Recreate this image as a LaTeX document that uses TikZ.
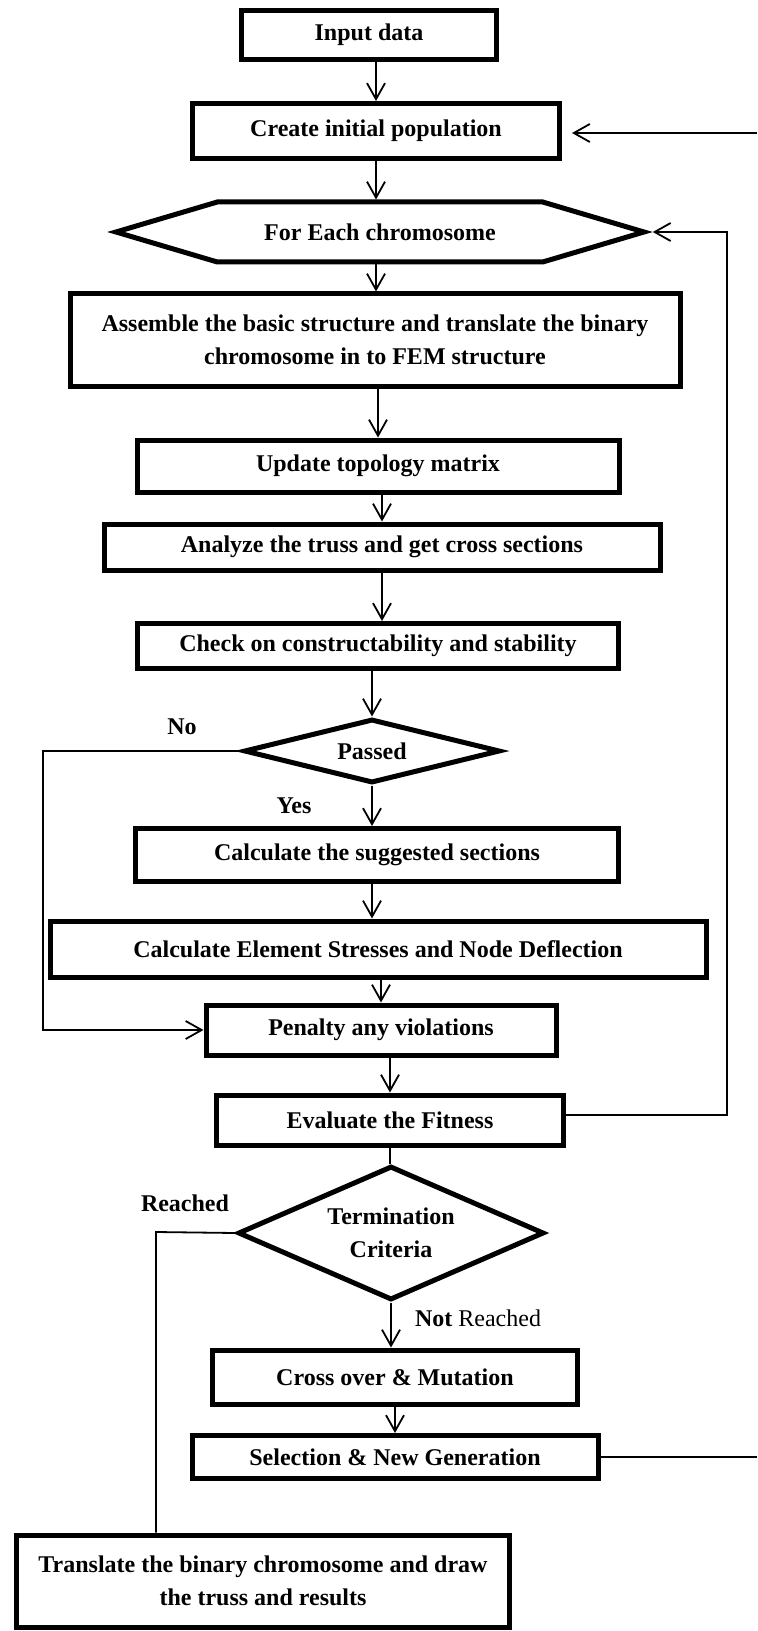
\documentclass[tikz,border=0pt]{standalone}
\usepackage{fontspec}
\setmainfont{Liberation Serif}
\usetikzlibrary{positioning,shapes.geometric,shapes.symbols,arrows.meta}

\begin{document}
\begin{tikzpicture}[x=0.5pt, y=-0.5pt,
    box/.style={draw, rectangle, line width=2.5pt, inner sep=0pt, align=center,
        font=\bfseries\fontsize{12}{16.5}\selectfont},
    hexbox/.style={draw, signal, signal to=east and west, signal pointer angle=33,
        line width=2.5pt, inner sep=0pt, font=\bfseries\fontsize{12}{16.5}\selectfont},
    decision/.style={draw, diamond, line width=2.5pt, inner sep=0pt, align=center,
        font=\bfseries\fontsize{12}{16.5}\selectfont},
    arr/.style={line width=0.9pt, -{Straight Barb[length=8pt, width=9pt, line width=0.9pt]}},
    plain/.style={line width=0.9pt},
    lbl/.style={font=\bfseries\fontsize{12}{14}\selectfont}]
    \useasboundingbox (0,0) rectangle (757,1631);

    % Nodes
    \node (input) [box, minimum width=127.5pt, minimum height=24.5pt] at (369,35) {Input data};
    \node (create) [box, minimum width=183.5pt, minimum height=27.5pt] at (376,131) {Create initial population};
    \node (hex) [hexbox, minimum width=264pt, minimum height=30pt] at (380,232) {For Each chromosome};
    \node (assemble) [box, minimum width=305pt, minimum height=46pt] at (375,340)
        {Assemble the basic structure and translate the binary\\chromosome in to FEM structure};
    \node (update) [box, minimum width=241pt, minimum height=26pt] at (378,466) {Update topology matrix};
    \node (analyze) [box, minimum width=278pt, minimum height=23pt] at (382,547) {Analyze the truss and get cross sections};
    \node (check) [box, minimum width=240.5pt, minimum height=22.5pt] at (378,646) {Check on constructability and stability};
    \node (passed) [decision, shape aspect=3.8, minimum width=128pt, minimum height=32pt] at (372,751) {Passed};
    \node (suggested) [box, minimum width=241.5pt, minimum height=26.5pt] at (377,855) {Calculate the suggested sections};
    \node (element) [box, minimum width=328pt, minimum height=28pt] at (378,949) {Calculate Element Stresses and Node Deflection};
    \node (penalty) [box, minimum width=175pt, minimum height=25pt] at (381,1030) {Penalty any violations};
    \node (evaluate) [box, minimum width=173.5pt, minimum height=25pt] at (390,1120) {Evaluate the Fitness};
    \node (termination) [decision, shape aspect=2.3, minimum width=153pt, minimum height=67pt] at (391,1233) {Termination\\Criteria};
    \node (cross) [box, minimum width=182.5pt, minimum height=27pt] at (395,1377) {Cross over \& Mutation};
    \node (selection) [box, minimum width=203pt, minimum height=21.5pt] at (395,1457) {Selection \& New Generation};
    \node (translate) [box, minimum width=246.5pt, minimum height=46pt] at (263,1581)
        {Translate the binary chromosome and draw\\the truss and results};

    % Labels
    \node (no) [lbl] at (182,727) {No};
    \node (yes) [lbl] at (294,806) {Yes};
    \node (reached) [lbl] at (185,1203) {Reached};
    \node (notreached) [lbl, anchor=west] at (408,1318) {Not \mdseries Reached};

    % Turning points
    \coordinate (noturn) at (43,751);
    \coordinate (loopright) at (727,1115);
    \coordinate (reachturn) at (156,1232);
    \coordinate (createin) at (757,133);
    \coordinate (selout) at (757,1457);

    % Main flow
    \draw [arr] (input.south -| create.north) -- (create.north);
    \draw [arr] (create.south) -- (create.south |- hex.north);
    \draw [arr] (hex.south -| create.south) -- (create.south |- assemble.north);
    \draw [arr] (assemble.south -| update.north) -- (update.north);
    \draw [arr] (update.south -| analyze.north) -- (analyze.north);
    \draw [arr] (analyze.south) -- (analyze.south |- check.north);
    \draw [arr] (check.south -| passed.north) -- (passed.north);
    \draw [arr] (passed.south) -- (passed.south |- suggested.north);
    \draw [arr] (suggested.south -| passed.south) -- (passed.south |- element.north);
    \draw [arr] (element.south -| penalty.north) -- (penalty.north);
    \draw [arr] (penalty.south -| evaluate.north) -- (evaluate.north);
    \draw [plain] (evaluate.south) -- (evaluate.south |- termination.north);
    \draw [arr] (termination.south) -- (termination.south |- cross.north);
    \draw [arr] (cross.south) -- (selection.north);

    % Branches and loops
    \draw [arr] (passed.west) -- (noturn) |- (penalty.west);
    \draw [arr] (evaluate.east |- loopright) -- (loopright) |- (hex.east);
    \draw [arr, shorten >=5pt] (createin) -- (createin -| create.east);
    \draw [plain] (selection.east) -- (selout);
    \draw [plain] (termination.west) -- (reachturn) -- (reachturn |- translate.north);
\end{tikzpicture}
\end{document}
